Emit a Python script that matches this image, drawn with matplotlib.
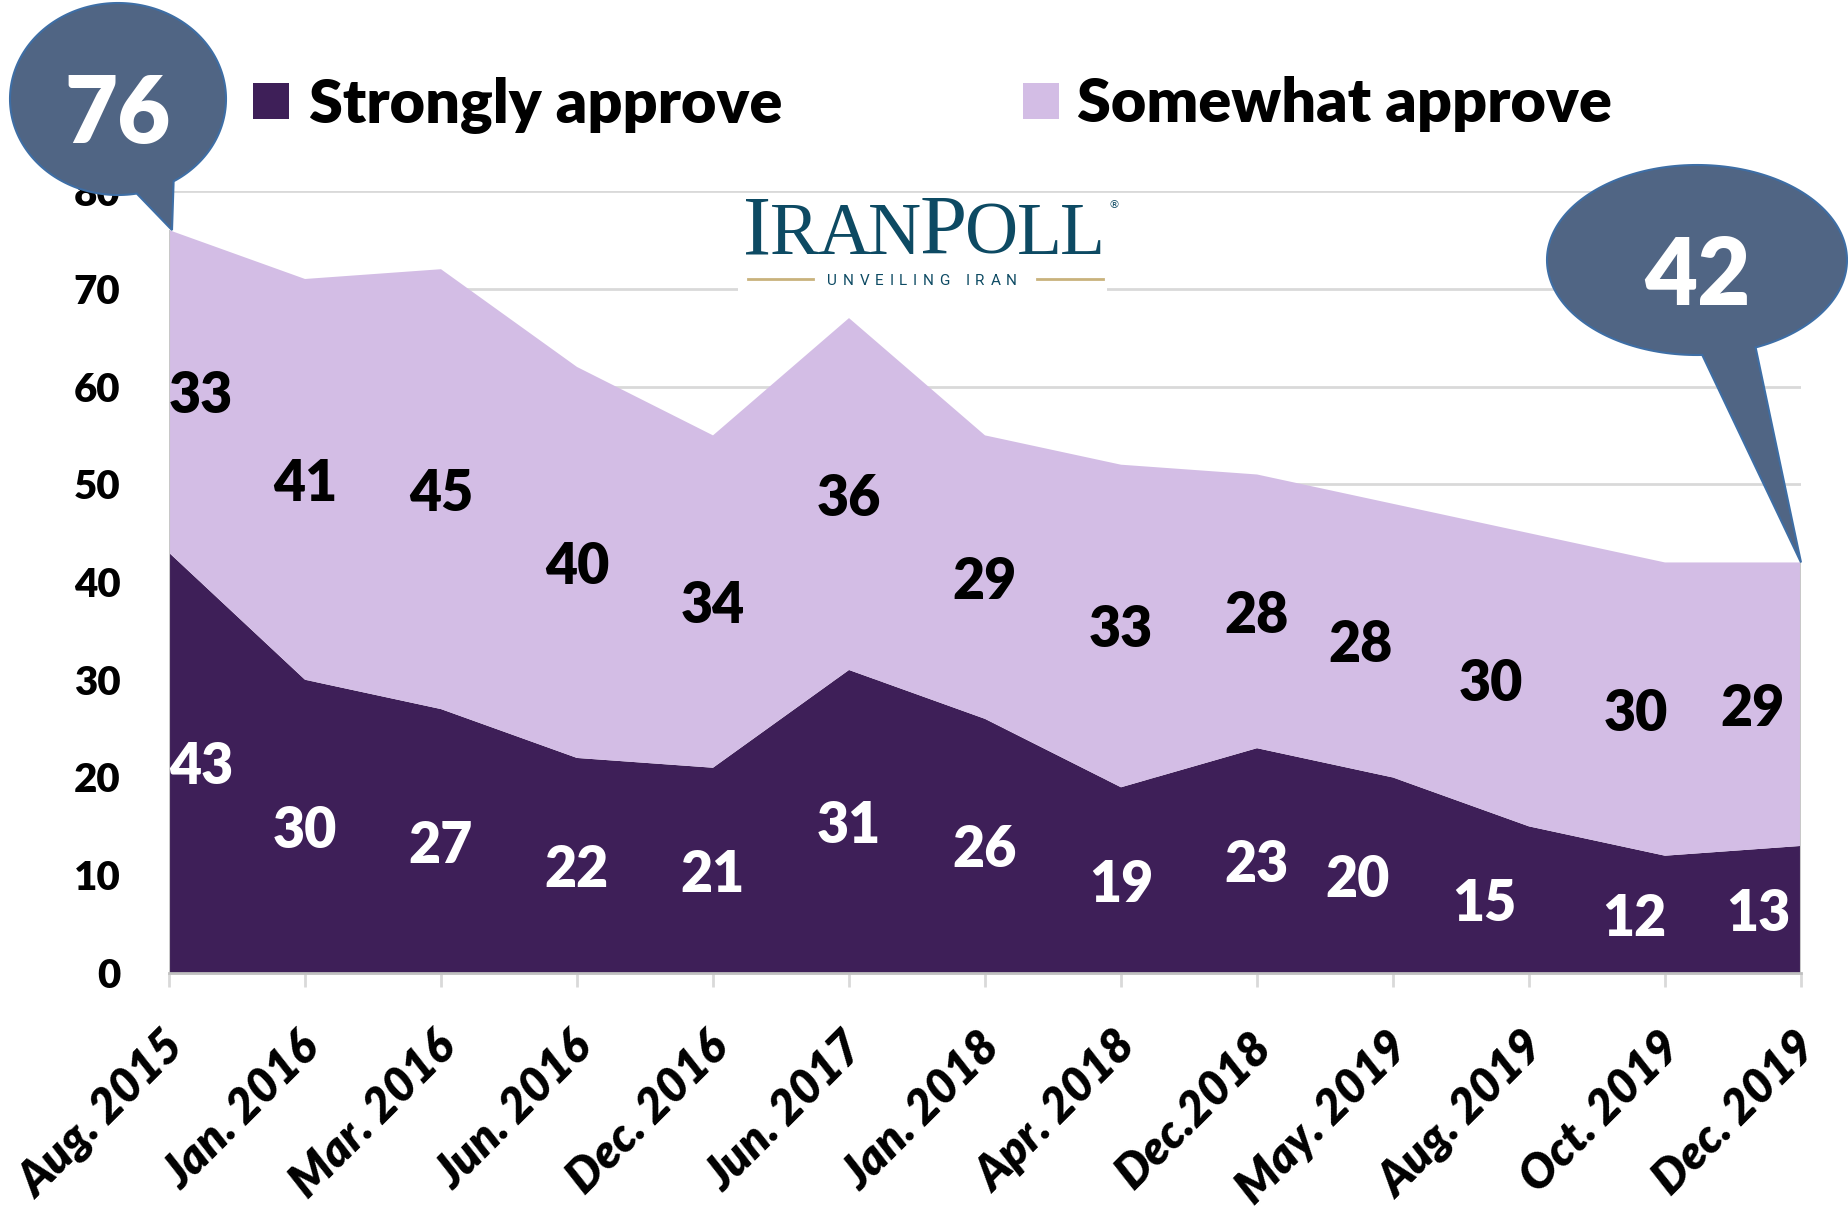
import numpy as np
import matplotlib
matplotlib.use("Agg")
import matplotlib.pyplot as plt
from matplotlib.patches import Polygon, Rectangle
from matplotlib.transforms import ScaledTranslation

dates = ["Aug. 2015", "Jan. 2016", "Mar. 2016", "Jun. 2016", "Dec. 2016", "Jun. 2017",
         "Jan. 2018", "Apr. 2018", "Dec.2018", "May. 2019", "Aug. 2019", "Oct. 2019",
         "Dec. 2019"]
strongly = [43, 30, 27, 22, 21, 31, 26, 19, 23, 20, 15, 12, 13]
somewhat = [33, 41, 45, 40, 34, 36, 29, 33, 28, 28, 30, 30, 29]
series_names = ["Strongly approve", "Somewhat approve"]

# label nudges in pixels (the reference labels near the ends are dragged sideways)
strong_dx = [32, 0, 0, 0, 0, 0, 0, 0, 0, -35, -45, -31, -43]
some_dx = [32, 0, 0, 0, 0, 0, 0, 0, 0, -32, -38, -29, -48]

C_STRONG = "#3E1F58"
C_SOME = "#D3BDE5"
C_BUBBLE = "#506584"
C_BUBBLE_EDGE = "#3E6EA5"
C_TEAL = "#0D4A63"
C_GOLD = "#C9B27C"
FONT = "Lato"
WEIGHT = "heavy"

W, H = 1849, 1209
fig = plt.figure(figsize=(W / 100, H / 100), dpi=100)
fig.patch.set_facecolor("white")

x = np.arange(len(dates))
strongly = np.array(strongly)
somewhat = np.array(somewhat)
totals = strongly + somewhat

ax = fig.add_axes([169 / W, 1 - 973 / H, (1801 - 169) / W, (973 - 191) / H])
ax.stackplot(x, strongly, somewhat, colors=[C_STRONG, C_SOME], zorder=2)
ax.vlines([x[0], x[-1]], 0, [totals[0], totals[-1]], color="#C8C8C8", lw=1.5, zorder=3)
ax.set_xlim(0, len(dates) - 1)
ax.set_ylim(0, 80)
ax.set_yticks(range(0, 81, 10))
ax.yaxis.grid(True, color="#D9D9D9", lw=2)
ax.set_axisbelow(True)
for s in ["left", "right", "top"]:
    ax.spines[s].set_visible(False)
ax.spines["bottom"].set_color("#BFBFBF")
ax.spines["bottom"].set_linewidth(2)
ax.spines["bottom"].set_zorder(4)
ax.tick_params(axis="y", length=0, pad=35, labelsize=29)
ax.tick_params(axis="x", length=10, width=2, color="#D9D9D9", pad=0)
for lab in ax.get_yticklabels():
    lab.set_fontfamily(FONT)
    lab.set_fontweight(WEIGHT)

ax.set_xticks(x)
ax.set_xticklabels(dates, rotation=45, ha="right", va="center", rotation_mode="anchor",
                   fontsize=34, fontweight=WEIGHT, fontstyle="italic", fontfamily=FONT)
shift = ScaledTranslation(8 / 100, -53 / 100, fig.dpi_scale_trans)
for lab in ax.get_xticklabels():
    lab.set_transform(lab.get_transform() + shift)

for i in range(len(x)):
    ax.annotate(str(strongly[i]), (x[i], strongly[i] / 2), xytext=(strong_dx[i], 0),
                textcoords="offset pixels", ha="center", va="center_baseline",
                fontsize=40, fontweight=WEIGHT, fontfamily=FONT, color="white", zorder=5)
    ax.annotate(str(somewhat[i]), (x[i], strongly[i] + somewhat[i] / 2), xytext=(some_dx[i], 0),
                textcoords="offset pixels", ha="center", va="center_baseline",
                fontsize=40, fontweight=WEIGHT, fontfamily=FONT, color="black", zorder=5)

# overlay in pixel coordinates for legend, logo and callouts
ov = fig.add_axes([0, 0, 1, 1])
ov.set_xlim(0, W)
ov.set_ylim(H, 0)
ov.axis("off")

# legend
for (sx, tx), name, col in zip([(253, 309), (1023, 1077)], series_names, [C_STRONG, C_SOME]):
    ov.add_patch(Rectangle((sx, 83), 36, 36, fc=col, ec="none"))
    ov.text(tx, 122, name, fontsize=44, fontweight=WEIGHT, fontfamily=FONT,
            va="baseline", ha="left")

# logo
renderer = fig.canvas.get_renderer()


def put_run(x0, x1, y, pieces, **kw):
    arts = [ov.text(0, y, ch, va="baseline", ha="left", fontsize=fs, **kw) for ch, fs in pieces]
    widths = [a.get_window_extent(renderer).width for a in arts]
    gap = (x1 - x0 - sum(widths)) / (len(arts) - 1)
    cx = x0
    for a, w in zip(arts, widths):
        a.set_x(cx)
        cx += w + gap


ov.add_patch(Rectangle((738, 196), 369, 102, fc="white", ec="none"))
big, small = 61, 53
logo = [("I", big), ("R", small), ("A", small), ("N", small),
        ("P", big), ("O", small), ("L", small), ("L", small)]
put_run(743, 1105, 254, logo, fontfamily="Liberation Serif", color=C_TEAL)
ov.text(1108, 208, "®", fontsize=8, color=C_TEAL, ha="left", va="baseline")
put_run(827, 1017, 285, [(c, 11) for c in "UNVEILING IRAN"],
        fontfamily="Roboto", color=C_TEAL)
ov.plot([748, 813], [279, 279], color=C_GOLD, lw=2)
ov.plot([1037, 1103], [279, 279], color=C_GOLD, lw=2)


# callout bubbles
def bubble(cx, cy, a, b, gap_lo, gap_hi, tip, label, base_y):
    t = np.radians(np.linspace(gap_hi, gap_lo + 360, 200))
    pts = np.column_stack([cx + a * np.cos(t), cy + b * np.sin(t)])
    pts = np.vstack([pts, tip])
    ov.add_patch(Polygon(pts, closed=True, fc=C_BUBBLE, ec=C_BUBBLE_EDGE, lw=1.5))
    ov.text(cx, base_y, label, fontsize=66, fontweight=WEIGHT, fontfamily=FONT,
            color="white", ha="center", va="baseline")


def to_px(xv, yv):
    return ov.transData.inverted().transform(ax.transData.transform((xv, yv)))


bubble(118, 99, 108, 96, 59, 80, to_px(x[0], totals[0]) + [3, 0], str(totals[0]), 143)
bubble(1697, 260, 150, 95, 67, 88, to_px(x[-1], totals[-1]), str(totals[-1]), 305)

fig.savefig("out.png", dpi=100)
